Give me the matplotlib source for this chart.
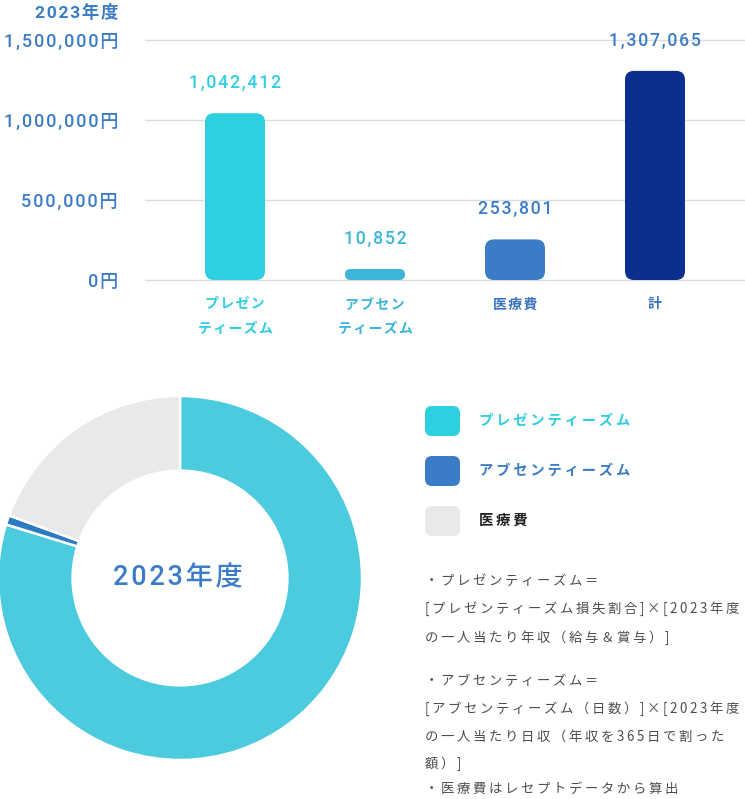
import matplotlib
matplotlib.use('Agg')
import matplotlib.pyplot as plt
from matplotlib.patches import FancyBboxPatch

W, H = 745, 799
plt.rcParams['font.family'] = ['Noto Sans CJK JP', 'DejaVu Sans']
NUM = ['Roboto', 'Noto Sans CJK JP', 'DejaVu Sans']

# 棒グラフのデータ
categories = ['プレゼン\nティーズム', 'アブセン\nティーズム', '医療費', '計']
values = [1042412, 10852, 253801, 1307065]
bar_colors = ['#2ecfe0', '#3db5d9', '#3b7cc6', '#0b2f8c']
value_colors = ['#2ecfe0', '#3db5d9', '#3b7cc6', '#3b7cc6']
label_colors = ['#2ecfe0', '#3db5d9', '#3b73bd', '#3b73bd']
yticks = [0, 500000, 1000000, 1500000]
year = '2023年度'

# ドーナツのデータ
pie_labels = ['プレゼンティーズム', 'アブセンティーズム', '医療費']
pie_values = values[:3]
pie_colors = ['#4ccbdf', '#2a7bc4', '#e9e9e9']
legend_box_colors = ['#2ecfe0', '#3b7cc6', '#e9e9e9']
legend_text_colors = ['#2ecfe0', '#3b7cc6', '#222222']

notes = [
    '・プレゼンティーズム＝',
    '[プレゼンティーズム損失割合]×[2023年度',
    'の一人当たり年収（給与＆賞与）]',
    '・アブセンティーズム＝',
    '[アブセンティーズム（日数）]×[2023年度',
    'の一人当たり日収（年収を365日で割った',
    '額）]',
    '・医療費はレセプトデータから算出',
]
note_y = [581, 609, 638, 681, 709, 737, 764, 789]


def sp(s, gap='\u2009'):
    # 字間を少し空ける
    return '\n'.join(gap.join(line) for line in s.split('\n'))


def box(x0, y0, x1, y1):
    # ピクセル座標（左上原点）→ figure 座標
    return [x0 / W, 1 - y1 / H, (x1 - x0) / W, (y1 - y0) / H]


fig = plt.figure(figsize=(W / 100, H / 100), dpi=100)

# ---- 棒グラフ ----
ax = fig.add_axes(box(145, 40, 745, 280))
xmin, xmax = -0.643, 3.643
ymax = 1500000
ax.set_xlim(xmin, xmax)
ax.set_ylim(0, ymax)
for s in ax.spines.values():
    s.set_visible(False)
ax.set_xticks([])
ax.set_yticks(yticks)
ax.set_yticklabels([sp(f'{v:,}円', '\u200a') for v in yticks],
                   fontfamily=NUM, fontweight='medium')
ax.tick_params(axis='y', length=0, pad=19.5, labelcolor='#3b7cc6', labelsize=13)
ax.grid(axis='y', color='#dddddd', linewidth=1)
ax.set_axisbelow(True)
for ln in ax.get_ygridlines():
    ln.set_clip_on(False)

x_per_px = (xmax - xmin) / 600
y_per_px = ymax / 240
asp = y_per_px / x_per_px
bw = 60 * x_per_px
min_bar = 11 * y_per_px  # 小さい値でも見えるように最小の長さ
for i, v in enumerate(values):
    h = max(v, min_bar)
    r = min(9 * x_per_px, h / asp / 2)
    ax.add_patch(FancyBboxPatch((i - bw / 2, 0), bw, h,
                                boxstyle=f'round,pad=0,rounding_size={r}',
                                mutation_aspect=asp, fc=bar_colors[i], ec='none'))
    ax.annotate(sp(f'{v:,}', '\u200a'), (i, h), xytext=(0, 21.6), textcoords='offset points',
                ha='center', va='center', color=value_colors[i], fontsize=12.7,
                family=NUM, weight='medium', annotation_clip=False)
    ax.annotate(sp(categories[i], '\u200a'), (i, 0), xytext=(0, -12.5), textcoords='offset points',
                ha='center', va='top', color=label_colors[i], fontsize=10,
                weight='bold', linespacing=2.0, annotation_clip=False)

fig.text(118 / W, 1 - 12 / H, sp(year, '\u200a'), ha='right', va='center',
         color='#3b7cc6', fontsize=12.5, weight='bold', family=NUM)

# ---- ドーナツ ----
pax = fig.add_axes(box(-2, 396, 362, 760))
pax.pie(pie_values, colors=pie_colors, startangle=90, counterclock=False, radius=1,
        wedgeprops=dict(width=0.41, edgecolor='white', linewidth=1.8))
pax.set_xlim(-1, 1)
pax.set_ylim(-1, 1)
pax.set_aspect('equal')
pax.text(-0.01, 0, sp(year, '\u200a'), ha='center', va='center', fontsize=19.5,
         color='#3b7cc6', weight='medium', family=NUM)

# ---- 凡例と注記 ----
oax = fig.add_axes([0, 0, 1, 1])
oax.set_xlim(0, W)
oax.set_ylim(H, 0)
oax.axis('off')
for k, lab in enumerate(pie_labels):
    yc = 421 + 50 * k
    oax.add_patch(FancyBboxPatch((425, yc - 15), 35, 30, boxstyle='round,pad=0,rounding_size=7',
                                 fc=legend_box_colors[k], ec='none'))
    oax.text(479, yc, sp(lab), ha='left', va='center', fontsize=10.3, weight='bold',
             color=legend_text_colors[k])

for line, y in zip(notes, note_y):
    oax.text(425, y, sp(line), ha='left', va='center', fontsize=9.6, color='#4d4d4d')

plt.savefig('out.png', dpi=100)
